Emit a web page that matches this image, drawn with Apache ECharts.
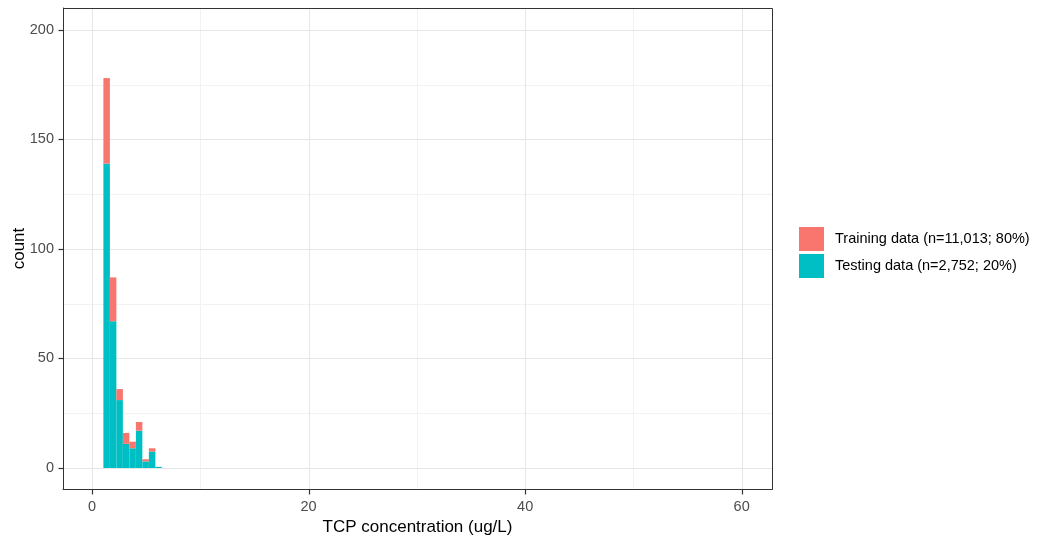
<!DOCTYPE html>
<html>
<head>
<meta charset="utf-8">
<script src="https://cdn.jsdelivr.net/npm/echarts@6/dist/echarts.min.js"></script>
<style>
  html, body { margin: 0; padding: 0; background: #ffffff; }
  #chart { width: 1037px; height: 540px; }
</style>
</head>
<body>
<div id="chart"></div>
<script>
// Histogram bins (TCP concentration, ug/L): left and right edges
const binLeft  = [1.05, 1.65, 2.25, 2.85, 3.45, 4.05, 4.65, 5.25, 5.85];
const binRight = [1.65, 2.25, 2.85, 3.45, 4.05, 4.65, 5.25, 5.85, 6.45];

// Counts per bin for each split
const testingCounts  = [139, 67, 31, 11, 9, 17, 3, 7.5, 0.5];
const trainingCounts = [39, 20, 5, 5, 3, 4, 1, 1.5, 0];

const seriesNames = ['Training data (n=11,013; 80%)', 'Testing data (n=2,752; 20%)'];
const seriesColors = ['#F8766D', '#00BFC4'];

const xTicks = [0, 20, 40, 60];
const yTicks = [0, 50, 100, 150, 200];
const xMinor = [10, 30, 50];
const yMinor = [25, 75, 125, 175];

const xRange = [-2.68, 62.8];
const yRange = [-9.6, 210];

// Stacked rectangles: testing at the bottom, training on top
const testingData = binLeft.map((x0, i) => [x0, binRight[i], 0, testingCounts[i]]);
const trainingData = binLeft.map((x0, i) => [x0, binRight[i], testingCounts[i], testingCounts[i] + trainingCounts[i]]);

function renderRect(params, api) {
  const p0 = api.coord([api.value(0), api.value(2)]);
  const p1 = api.coord([api.value(1), api.value(3)]);
  return {
    type: 'rect',
    shape: { x: p0[0], y: p1[1], width: p1[0] - p0[0], height: p0[1] - p1[1] },
    style: { fill: api.visual('color') }
  };
}

const font = 'Liberation Sans, Arial, sans-serif';
const ink = '#333333';

const chart = echarts.init(document.getElementById('chart'), null, { renderer: 'canvas' });

chart.setOption({
  animation: false,
  backgroundColor: '#ffffff',
  grid: { left: 63, right: 265, top: 8, bottom: 51, containLabel: false, outerBoundsMode: 'none' },
  legend: {
    orient: 'vertical',
    left: 799,
    top: 227,
    padding: 0,
    itemWidth: 25,
    itemHeight: 24,
    itemGap: 3,
    icon: 'rect',
    data: seriesNames,
    textStyle: { fontFamily: font, fontSize: 14.5, color: '#000000', padding: [0, 0, 0, 6] }
  },
  xAxis: {
    type: 'value',
    min: xRange[0],
    max: xRange[1],
    axisLine: { show: true, onZero: false, lineStyle: { color: ink, width: 1 } },
    axisTick: { show: false },
    axisLabel: { fontFamily: font, fontSize: 14.5, color: '#4d4d4d', margin: 10, customValues: xTicks },
    splitLine: { show: false },
    name: 'TCP concentration (ug/L)',
    nameLocation: 'middle',
    nameGap: 30,
    nameMoveOverlap: false,
    nameTextStyle: { fontFamily: font, fontSize: 17, color: '#000000' }
  },
  yAxis: {
    type: 'value',
    min: yRange[0],
    max: yRange[1],
    axisLine: { show: true, onZero: false, lineStyle: { color: ink, width: 1 } },
    axisTick: { show: false },
    axisLabel: { fontFamily: font, fontSize: 14.5, color: '#4d4d4d', margin: 9, customValues: yTicks },
    splitLine: { show: false },
    name: 'count',
    nameLocation: 'middle',
    nameGap: 35,
    nameMoveOverlap: false,
    nameRotate: 90,
    nameTextStyle: { fontFamily: font, fontSize: 17, color: '#000000' }
  },
  series: [
    {
      name: seriesNames[1],
      type: 'custom',
      renderItem: renderRect,
      itemStyle: { color: seriesColors[1] },
      encode: { x: [0, 1], y: [2, 3] },
      data: testingData,
      z: 3
    },
    {
      name: seriesNames[0],
      type: 'custom',
      renderItem: renderRect,
      itemStyle: { color: seriesColors[0] },
      encode: { x: [0, 1], y: [2, 3] },
      data: trainingData,
      z: 3
    }
  ]
});

// Panel grid lines, tick marks and border, positioned through the axes' own scales
function drawPanel() {
  const g = [];
  const toX = v => chart.convertToPixel({ xAxisIndex: 0 }, v);
  const toY = v => chart.convertToPixel({ yAxisIndex: 0 }, v);
  const x0 = Math.round(toX(xRange[0])) + 0.5;
  const x1 = Math.round(toX(xRange[1])) + 0.5;
  const y0 = Math.round(toY(yRange[0])) + 0.5;
  const y1 = Math.round(toY(yRange[1])) + 0.5;
  const line = (a, b, c, d, st, z) =>
    g.push({ type: 'line', silent: true, z: z, shape: { x1: a, y1: b, x2: c, y2: d }, style: st });
  const minorSt = { stroke: '#f2f2f2', lineWidth: 1 };
  const majorSt = { stroke: '#e6e6e6', lineWidth: 1 };
  const tickSt = { stroke: ink, lineWidth: 1.2 };
  xMinor.forEach(v => { const p = Math.round(toX(v)) + 0.5; line(p, y1, p, y0, minorSt, 0); });
  yMinor.forEach(v => { const p = Math.round(toY(v)) + 0.5; line(x0, p, x1, p, minorSt, 0); });
  xTicks.forEach(v => {
    const p = Math.round(toX(v)) + 0.5;
    line(p, y1, p, y0, majorSt, 0);
    line(p, y0, p, y0 + 5, tickSt, 10);
  });
  yTicks.forEach(v => {
    const p = Math.round(toY(v)) + 0.5;
    line(x0, p, x1, p, majorSt, 0);
    line(x0 - 5, p, x0, p, tickSt, 10);
  });
  g.push({ type: 'rect', silent: true, z: 10,
    shape: { x: x0, y: y1, width: x1 - x0, height: y0 - y1 },
    style: { fill: null, stroke: ink, lineWidth: 1 } });
  chart.setOption({ graphic: { elements: g } });
}
drawPanel();
</script>
</body>
</html>
